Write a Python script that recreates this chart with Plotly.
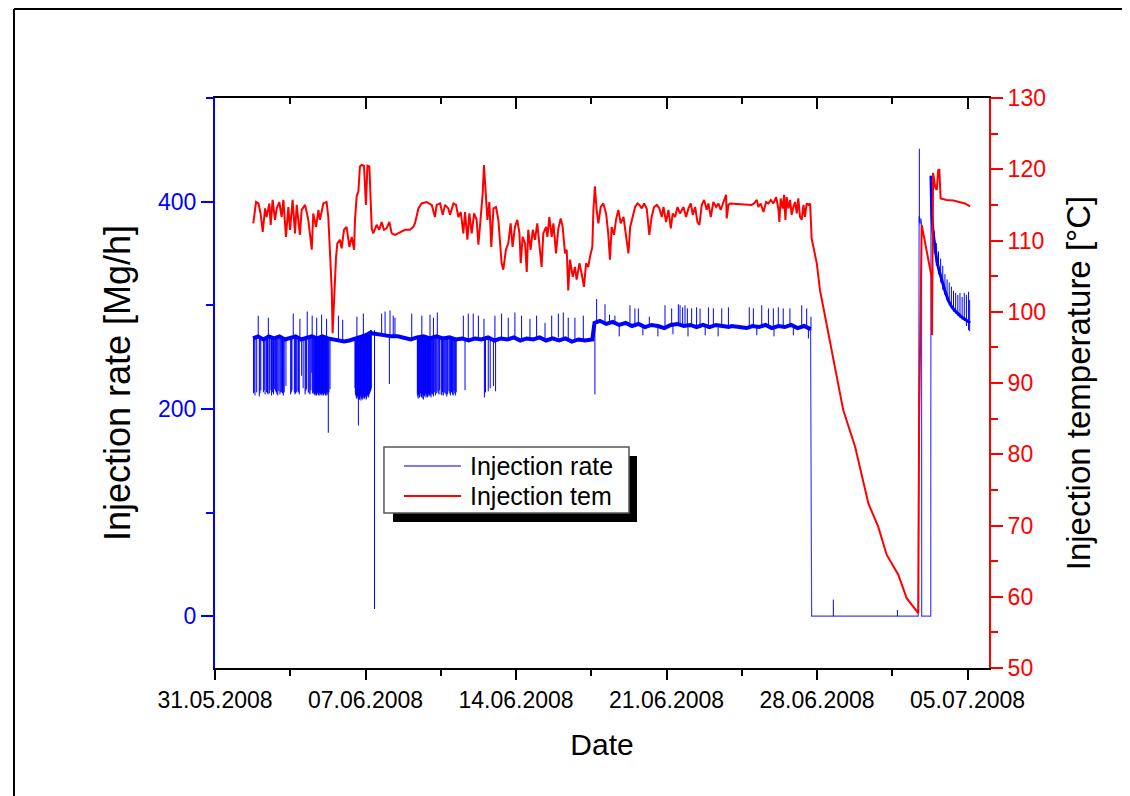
import pandas as pd
import plotly.graph_objects as go

# ---------------- data (days after 31.05.2008 00:00) ----------------
start_date = "2008-05-31"

temp_days = [1.78, 1.91, 2.02, 2.12, 2.22, 2.33, 2.40, 2.53, 2.59, 2.68, 2.79, 2.87, 2.99, 3.10, 3.18, 3.30,
             3.41, 3.49, 3.61, 3.72, 3.80, 3.95, 4.03, 4.19, 4.34, 4.50, 4.57, 4.70, 4.81, 4.88, 5.04, 5.19,
             5.27, 5.35, 5.43, 5.47, 5.55, 5.63, 5.69, 5.81, 5.89, 6.00, 6.12, 6.25, 6.36, 6.47, 6.51, 6.59,
             6.67, 6.74, 6.82, 6.93, 7.02, 7.09, 7.18, 7.24, 7.29, 7.36, 7.52, 7.64, 7.75, 7.86, 7.98, 8.11,
             8.22, 8.37, 8.60, 8.84, 9.07, 9.22, 9.30, 9.46, 9.61, 9.84, 10.08, 10.23, 10.31,
             10.47, 10.59, 10.70, 10.85, 10.93, 11.09, 11.21, 11.32, 11.43, 11.55, 11.63, 11.74, 11.83, 11.94,
             12.05, 12.17, 12.25, 12.36, 12.45, 12.51, 12.60, 12.67, 12.76, 12.85, 12.95, 13.07, 13.18, 13.26,
             13.33, 13.41, 13.53, 13.64, 13.75, 13.84, 13.95, 14.06, 14.16, 14.22, 14.31, 14.42, 14.50, 14.57,
             14.68, 14.78, 14.88, 14.99, 15.09, 15.19, 15.27, 15.40, 15.46, 15.55, 15.66, 15.74, 15.86, 15.97,
             16.08, 16.17, 16.28, 16.36, 16.43, 16.51, 16.64, 16.74, 16.82, 16.95, 17.05, 17.16, 17.26, 17.36,
             17.44, 17.55, 17.60, 17.67, 17.75, 17.83, 17.94, 18.06, 18.19, 18.29, 18.37, 18.45, 18.56, 18.65,
             18.76, 18.87, 19.00, 19.07, 19.15, 19.23, 19.31, 19.43, 19.54, 19.65, 19.74, 19.85, 19.96, 20.08,
             20.20, 20.31, 20.42, 20.55, 20.67, 20.78, 20.86, 20.98, 21.09, 21.20, 21.29, 21.40, 21.51, 21.63,
             21.79, 21.91, 22.02, 22.13, 22.22, 22.33, 22.44, 22.53, 22.64, 22.75, 22.87, 22.95, 23.06, 23.18,
             23.31, 23.41, 23.52, 23.65, 23.77, 23.80, 23.88, 23.96, 24.81, 24.96, 25.07, 25.20, 25.27, 25.38,
             25.51, 25.63, 25.74, 25.85, 25.97, 26.10, 26.20, 26.25, 26.31, 26.41, 26.47, 26.53, 26.59, 26.67,
             26.75, 26.82, 26.90, 26.98, 27.06, 27.13, 27.21, 27.29, 27.37, 27.44, 27.52, 27.60, 27.68, 27.71,
             27.75, 27.99, 28.14, 28.29, 28.76, 29.22, 29.77, 30.39, 30.85, 31.24, 31.78, 32.17, 32.71, 32.75,
             32.87, 33.33, 33.35, 33.40, 33.50, 33.57, 33.64, 33.69, 33.75, 34.03, 34.34, 34.65, 34.88, 35.12]
temp_vals = [112.4, 115.4, 115.2, 113.8, 111.2, 114.5, 113.3, 115.2, 112.2, 115.7, 112.9, 114.5, 115.4, 113.3, 115.7, 110.5,
             114.7, 111.5, 115.7, 111.0, 115.0, 110.8, 114.3, 115.0, 112.9, 108.7, 113.8, 111.9, 114.3, 112.9, 115.2, 115.4,
             113.3, 108.7, 103.1, 97.0, 103.1, 107.7, 109.6, 110.1, 108.9, 111.5, 111.9, 109.1, 110.5, 108.7, 112.9, 116.2,
             116.9, 120.4, 120.6, 120.5, 115.0, 120.5, 120.4, 116.6, 111.7, 111.0, 112.2, 111.5, 112.6, 111.5, 111.7, 112.6,
             111.0, 110.8, 111.2, 111.5, 111.5, 111.9, 112.4, 114.5, 115.2, 115.4, 115.0, 113.3, 115.0,
             115.2, 113.6, 115.0, 114.5, 113.6, 115.2, 115.0, 113.3, 114.0, 111.0, 114.0, 110.1, 113.8, 111.0,
             113.8, 112.9, 109.4, 113.3, 116.6, 120.6, 115.2, 112.9, 115.4, 109.1, 114.5, 114.7, 112.9, 108.7,
             106.8, 105.9, 108.7, 109.6, 112.4, 109.1, 111.9, 112.9, 111.0, 106.8, 110.5, 109.6, 105.6, 111.5,
             108.7, 111.5, 110.1, 112.4, 109.6, 106.3, 111.0, 111.9, 110.5, 113.3, 110.5, 112.4, 108.2, 111.7,
             113.1, 111.9, 108.2, 108.7, 103.0, 107.3, 104.9, 106.3, 104.5, 106.8, 105.4, 103.5, 106.8, 106.3,
             107.7, 109.1, 114.3, 117.6, 114.3, 112.4, 114.7, 115.2, 113.8, 111.0, 107.3, 111.9, 110.8, 112.9,
             114.3, 112.4, 113.3, 111.5, 109.6, 108.2, 111.9, 113.3, 114.7, 115.2, 115.0, 114.5, 115.2, 114.5,
             110.8, 113.3, 114.7, 115.0, 114.5, 113.3, 114.7, 112.6, 114.3, 111.7, 113.8, 113.3, 114.7, 113.8,
             114.7, 113.3, 114.5, 115.2, 113.6, 114.7, 112.6, 112.2, 115.0, 115.7, 114.3, 115.2, 113.3, 115.4,
             114.7, 115.2, 114.3, 115.4, 116.4, 113.1, 115.0, 115.2, 115.1, 115.0, 115.2, 115.7, 114.7, 115.2,
             114.0, 115.4, 115.2, 115.7, 115.2, 116.1, 114.5, 112.6, 115.9, 114.5, 116.4, 112.9, 116.1, 114.5,
             115.7, 113.6, 114.7, 115.4, 113.8, 115.9, 113.3, 112.9, 115.0, 113.3, 115.2, 115.0, 115.2, 111.5,
             110.3, 106.8, 103.0, 100.7, 93.2, 86.2, 81.1, 73.1, 69.8, 65.9, 63.1, 59.8, 57.7, 85.0,
             112.2, 104.9, 96.7, 119.5, 117.5, 117.1, 119.9, 120.0, 115.9, 115.7, 115.6, 115.4, 115.2, 114.8]

# injection rate: noisy running level while injecting
rate_band_days = [1.77, 2.0, 2.25, 2.5, 2.75, 3.0, 3.25, 3.5, 3.75, 4.0, 4.25, 4.5, 4.75, 5.0, 5.25, 5.5,
                  5.75, 6.0, 6.25, 6.5, 6.75, 7.0, 7.3, 7.6, 7.9, 8.2, 8.5, 8.8, 9.1, 9.4, 9.7, 10.0,
                  10.3, 10.6, 10.9, 11.2, 11.5, 11.8, 12.1, 12.4, 12.7, 13.0, 13.3, 13.6, 13.9, 14.2,
                  14.5, 14.8, 15.1, 15.4, 15.7, 16.0, 16.3, 16.6, 16.9, 17.2, 17.55, 17.65, 17.9, 18.2,
                  18.5, 18.8, 19.1, 19.4, 19.7, 20.0, 20.3, 20.6, 20.9, 21.2, 21.5, 21.8, 22.1, 22.4,
                  22.7, 23.0, 23.3, 23.6, 23.9, 24.03, 24.73, 25.0, 25.3, 25.6, 25.9, 26.2, 26.5, 26.8,
                  27.1, 27.4, 27.7]
rate_band_vals = [268, 270, 267, 270, 268, 270, 267, 269, 270, 267, 269, 270, 268, 270, 268, 267,
                  266, 265, 266, 268, 270, 271, 273, 272, 271, 270, 270, 268, 267, 269, 270, 268,
                  270, 268, 269, 267, 268, 266, 268, 267, 269, 266, 268, 267, 269, 266,
                  268, 267, 269, 266, 268, 266, 268, 265, 267, 266, 267, 283, 285, 282,
                  284, 281, 283, 280, 282, 279, 281, 280, 278, 281, 282, 280, 281, 279,
                  281, 279, 281, 280, 279, 280, 278, 280, 279, 281, 278, 280, 279, 281,
                  278, 280, 277]

# shut-in period and short restart
rate_stop_days = [27.70, 27.75, 32.71, 32.72, 32.75, 32.79, 32.83, 32.86, 32.87, 33.29, 33.30]
rate_stop_vals = [277, 0, 0, 380, 386, 378, 384, 379, 0, 0, 425]

# decay after restart
rate_restart_days = [33.30, 33.34, 33.40, 33.48, 33.58, 33.70, 33.82, 33.95, 34.10, 34.25, 34.40,
                     34.55, 34.70, 34.85, 35.00, 35.12]
rate_restart_vals = [425, 388, 370, 355, 342, 332, 322, 314, 305, 299, 295, 292, 289, 287, 285, 283]

# short excursions of the rate (day, low, high)
rate_spikes = [
    (1.79, 215, 268), (1.82, 216, 268), (1.86, 213, 269), (1.94, 216, 268), (2.06, 212, 270),
    (2.09, 215, 269), (2.13, 218, 268), (2.25, 216, 267), (2.29, 218, 268), (2.33, 214, 268),
    (2.40, 216, 269), (2.44, 215, 269), (2.47, 214, 270), (2.53, 215, 269), (2.60, 218, 268),
    (2.63, 213, 268), (2.67, 216, 268), (2.72, 214, 269), (2.76, 219, 268), (2.81, 217, 269),
    (2.85, 216, 269), (2.88, 214, 269), (2.92, 213, 270), (2.97, 217, 269), (3.02, 214, 270),
    (3.06, 216, 269), (3.10, 216, 268), (3.14, 215, 268), (3.18, 213, 267), (3.22, 216, 268),
    (3.30, 222, 268), (3.52, 214, 269), (3.55, 216, 269), (3.58, 218, 269), (3.69, 216, 270),
    (3.72, 214, 270), (3.75, 215, 270), (3.80, 216, 269), (3.86, 217, 268), (3.89, 216, 268),
    (3.92, 214, 268), (4.03, 232, 268), (4.10, 220, 268), (4.19, 214, 269), (4.22, 217, 269),
    (4.26, 219, 269), (4.34, 216, 270), (4.38, 215, 270), (4.42, 214, 270), (4.46, 218, 270),
    (4.50, 235, 270), (4.54, 215, 270), (4.57, 216, 269), (4.60, 214, 269),
    (4.62, 215, 268), (4.64, 214, 268), (4.66, 213, 268), (4.68, 215, 268), (4.70, 216, 268),
    (4.72, 213, 268), (4.74, 214, 268), (4.76, 216, 269), (4.78, 215, 269), (4.80, 214, 269),
    (4.82, 213, 269), (4.84, 215, 269), (4.86, 216, 270), (4.88, 213, 270), (4.90, 214, 270),
    (4.92, 216, 270), (4.94, 215, 270), (4.96, 214, 270), (4.98, 213, 270), (5.00, 215, 270),
    (5.02, 216, 270), (5.04, 213, 270), (5.06, 214, 269), (5.08, 216, 269), (5.10, 215, 269),
    (5.12, 214, 269), (5.14, 213, 269), (5.16, 215, 268), (5.18, 216, 268), (5.20, 213, 268),
    (5.22, 214, 268), (5.24, 216, 268), (5.27, 177, 268), (5.30, 216, 268), (5.35, 219, 267),
    (6.51, 220, 267), (6.53, 214, 268), (6.55, 213, 268), (6.57, 211, 268), (6.59, 210, 268),
    (6.61, 213, 268), (6.63, 212, 269), (6.65, 210, 269), (6.67, 184, 269), (6.69, 212, 269),
    (6.71, 209, 270), (6.73, 209, 270), (6.75, 212, 270), (6.77, 213, 270), (6.79, 208, 271),
    (6.81, 210, 271), (6.83, 211, 271), (6.85, 212, 271), (6.87, 209, 272), (6.89, 210, 272),
    (6.91, 212, 272), (6.93, 213, 272), (6.95, 210, 272), (6.97, 211, 272), (6.99, 213, 273),
    (7.01, 212, 273), (7.03, 209, 273), (7.05, 210, 273), (7.07, 212, 274), (7.09, 213, 274),
    (7.11, 214, 274), (7.13, 212, 274), (7.15, 211, 275), (7.17, 214, 275), (7.19, 215, 275),
    (7.21, 216, 275), (7.23, 217, 276), (7.25, 218, 276), (7.27, 220, 276),
    (7.42, 7, 276), (8.11, 224, 271),
    (9.41, 214, 269), (9.43, 212, 269), (9.45, 210, 269), (9.47, 214, 269), (9.49, 215, 270),
    (9.51, 211, 270), (9.53, 212, 270), (9.55, 215, 270), (9.57, 216, 270), (9.59, 212, 270),
    (9.61, 211, 271), (9.63, 213, 271), (9.65, 214, 271), (9.67, 210, 271), (9.69, 209, 271),
    (9.71, 214, 271), (9.73, 213, 271), (9.75, 212, 271), (9.77, 216, 270), (9.79, 215, 270),
    (9.81, 211, 270), (9.83, 213, 270), (9.85, 214, 269), (9.87, 211, 269), (9.89, 212, 269),
    (9.91, 214, 269), (9.93, 215, 268), (9.95, 212, 268), (9.97, 213, 268), (9.99, 215, 268),
    (10.01, 216, 268), (10.03, 213, 268), (10.05, 211, 269), (10.08, 215, 269), (10.12, 214, 269),
    (10.16, 212, 269), (10.20, 216, 270), (10.25, 213, 270), (10.29, 215, 270), (10.33, 217, 269),
    (10.38, 215, 269), (10.42, 214, 269), (10.45, 218, 268), (10.52, 214, 268), (10.55, 213, 268),
    (10.58, 216, 268), (10.62, 213, 268), (10.66, 216, 268), (10.70, 215, 268), (10.74, 214, 268),
    (10.78, 212, 269), (10.82, 214, 269), (10.88, 217, 269), (10.92, 215, 269), (10.95, 213, 269),
    (11.00, 216, 268), (11.05, 214, 268), (11.08, 213, 268), (11.12, 218, 267), (11.15, 215, 267),
    (11.18, 213, 267), (11.22, 216, 267), (11.63, 218, 268), (12.53, 211, 267), (12.58, 216, 267),
    (12.71, 217, 269), (12.80, 220, 269), (12.95, 222, 267), (13.05, 217, 266), (17.67, 214, 283),
    (2.01, 270, 290), (2.48, 270, 288), (3.64, 269, 292), (3.95, 268, 287), (4.29, 269, 294),
    (4.52, 270, 290), (4.73, 268, 288), (4.96, 270, 291), (5.19, 268, 287), (5.74, 265, 290),
    (5.94, 264, 286), (6.60, 268, 289), (6.90, 272, 292), (7.75, 272, 292), (7.91, 271, 294),
    (8.14, 270, 295), (8.29, 270, 290), (8.37, 270, 288), (9.15, 267, 292), (9.62, 271, 290),
    (10.0, 268, 291), (10.16, 270, 288), (10.34, 270, 293), (11.55, 268, 290), (11.78, 266, 292),
    (12.01, 268, 292), (12.25, 267, 290), (12.51, 267, 287), (13.02, 266, 290), (13.33, 268, 292),
    (13.64, 267, 288), (13.95, 269, 293), (14.26, 266, 290), (14.65, 268, 287), (14.96, 267, 290),
    (15.35, 266, 283), (15.66, 268, 290), (15.97, 269, 292), (16.20, 266, 293), (16.43, 267, 288),
    (16.74, 266, 288), (17.13, 266, 290), (17.75, 283, 306), (18.14, 282, 301), (18.35, 282, 291),
    (18.60, 283, 290), (19.30, 283, 300), (19.53, 280, 297), (19.69, 282, 297), (20.20, 280, 289),
    (20.93, 278, 300), (21.24, 281, 297), (21.55, 282, 301), (21.63, 282, 300), (21.75, 281, 298),
    (21.86, 280, 300), (21.97, 280, 297), (22.17, 281, 297), (22.40, 279, 298), (22.56, 281, 297),
    (22.95, 279, 298), (23.18, 281, 297), (23.57, 280, 297), (23.88, 279, 298), (24.85, 280, 298),
    (25.04, 280, 297), (25.43, 279, 300), (25.74, 281, 297), (25.97, 278, 297), (26.20, 280, 298),
    (26.43, 279, 297), (26.74, 281, 297), (27.29, 280, 300), (27.52, 280, 297), (27.72, 276, 289),
    (18.8, 270, 281), (19.9, 271, 279), (20.6, 270, 280), (21.3, 272, 281), (22.0, 270, 281),
    (22.8, 271, 281), (23.4, 270, 281), (25.2, 271, 279), (26.0, 270, 278), (26.9, 271, 281),
    (27.6, 268, 277),
    (28.76, 0, 16), (31.74, 0, 6), (32.76, 380, 451),
    (33.45, 350, 372), (33.55, 338, 360), (33.65, 330, 352), (33.75, 322, 345), (33.85, 315, 338),
    (33.95, 310, 330), (34.05, 305, 325), (34.15, 300, 322), (34.25, 297, 318), (34.35, 294, 314),
    (34.45, 292, 312), (34.55, 290, 310), (34.65, 288, 312), (34.75, 286, 308), (34.85, 285, 312),
    (34.95, 280, 310), (35.05, 276, 313), (35.10, 275, 305),
]

legend_labels = ["Injection rate", "Injection tem"]
x_range_days = [0, 36]
rate_ticks = [0, 200, 400]
temp_ticks = list(range(50, 131, 10))

# ---------------- build ----------------
base = pd.Timestamp(start_date)


def to_dates(days):
    return [base + pd.Timedelta(days=float(d)) for d in days]


spike_x, spike_y = [], []
for d, lo, hi in rate_spikes:
    t = base + pd.Timedelta(days=d)
    spike_x += [t, t, None]
    spike_y += [lo, hi, None]

BLUE = "#0000FF"
RED = "#FF0000"
FONT = "Arial, Liberation Sans, Helvetica, sans-serif"

fig = go.Figure()
fig.add_trace(go.Scatter(x=spike_x, y=spike_y, mode="lines", line=dict(color=BLUE, width=1),
                         name=legend_labels[0], yaxis="y", connectgaps=False, showlegend=False))
fig.add_trace(go.Scatter(x=to_dates(rate_band_days), y=rate_band_vals, mode="lines",
                         line=dict(color=BLUE, width=4), showlegend=False, yaxis="y"))
fig.add_trace(go.Scatter(x=to_dates(rate_stop_days), y=rate_stop_vals, mode="lines",
                         line=dict(color="rgba(0,0,255,0.75)", width=1.2), showlegend=False, yaxis="y"))
fig.add_trace(go.Scatter(x=to_dates(rate_restart_days), y=rate_restart_vals, mode="lines",
                         line=dict(color=BLUE, width=3), showlegend=False, yaxis="y"))
fig.add_trace(go.Scatter(x=to_dates(temp_days), y=temp_vals, mode="lines",
                         line=dict(color=RED, width=2), name=legend_labels[1], yaxis="y2",
                         showlegend=False))

day_ms = 86400000
xr = [base + pd.Timedelta(days=d) for d in x_range_days]

common_x = dict(type="date", range=xr, tick0=start_date, dtick=7 * day_ms, showgrid=False,
                zeroline=False, linecolor="black", linewidth=2, tickcolor="black", tickwidth=2)

# the page has an 8px body margin; the figure is sized so that the plot frame lands where it should
fig.update_layout(
    width=1122, height=788,
    margin=dict(l=207, r=141, t=90, b=128),
    paper_bgcolor="white", plot_bgcolor="white",
    font=dict(family=FONT, color="black"),
    xaxis=dict(**common_x, ticks="outside", ticklen=10, tickformat="%d.%m.%Y",
               tickfont=dict(size=23, color="black"),
               minor=dict(tick0=start_date, dtick=3.5 * day_ms, ticks="outside", ticklen=6,
                          tickcolor="black", tickwidth=2),
               title=dict(text="Date", font=dict(size=30), standoff=22)),
    xaxis2=dict(**common_x, overlaying="x", side="top", ticks="inside", ticklen=11,
                showticklabels=False, matches="x",
                minor=dict(tick0=start_date, dtick=3.5 * day_ms, ticks="inside", ticklen=6,
                           tickcolor="black", tickwidth=2)),
    yaxis=dict(range=[-50, 500], tickvals=rate_ticks, ticks="outside", ticklen=12, tickwidth=2,
               tickcolor=BLUE, linecolor=BLUE, linewidth=2, showgrid=False, zeroline=False,
               tickfont=dict(size=23, color=BLUE),
               minor=dict(dtick=100, tick0=0, ticks="outside", ticklen=7, tickcolor=BLUE, tickwidth=2),
               title=dict(text="Injection rate [Mg/h]", font=dict(size=36, color="black"), standoff=16)),
    yaxis2=dict(range=[50, 130], tickvals=temp_ticks, overlaying="y", side="right", ticks="outside",
                ticklen=12, tickwidth=2, tickcolor=RED, linecolor=RED, linewidth=2, showgrid=False,
                zeroline=False, tickfont=dict(size=23, color=RED),
                minor=dict(dtick=5, tick0=50, ticks="outside", ticklen=7, tickcolor=RED, tickwidth=2),
                title=dict(text="Injection temperature [°C]", font=dict(size=33, color="black"),
                           standoff=22)),
    showlegend=False,
)

# empty trace to activate the top axis
fig.add_trace(go.Scatter(x=[xr[0]], y=[None], xaxis="x2", yaxis="y", showlegend=False,
                         hoverinfo="skip"))

# outer frame: only the top and left edges are inside the picture
fig.add_shape(type="line", xref="paper", yref="paper", x0=-0.2597, y0=1.1561, x1=1.30, y1=1.1561,
              line=dict(color="black", width=2), layer="above")
fig.add_shape(type="line", xref="paper", yref="paper", x0=-0.2597, y0=-0.30, x1=-0.2597, y1=1.1561,
              line=dict(color="black", width=2), layer="above")
# legend box with drop shadow
fig.add_shape(type="rect", xref="paper", yref="paper", x0=0.2300, y0=0.2561, x1=0.5452, y1=0.3719,
              line=dict(width=0), fillcolor="black", layer="above")
fig.add_shape(type="rect", xref="paper", yref="paper", x0=0.2183, y0=0.2719, x1=0.5349, y1=0.3877,
              line=dict(color="#555555", width=1.5), fillcolor="white", layer="above")
legend_rows = [0.3544, 0.3018]
legend_styles = [dict(color="rgba(0,0,255,0.7)", width=1.5), dict(color=RED, width=2)]
for lab, yy, st in zip(legend_labels, legend_rows, legend_styles):
    fig.add_shape(type="line", xref="paper", yref="paper", x0=0.2442, x1=0.3178, y0=yy, y1=yy,
                  line=st, layer="above")
    fig.add_annotation(text=lab, xref="paper", yref="paper", x=0.3269, y=yy, xanchor="left",
                       yanchor="middle", showarrow=False, font=dict(size=25, color="black"))

fig.write_html("out.html")
